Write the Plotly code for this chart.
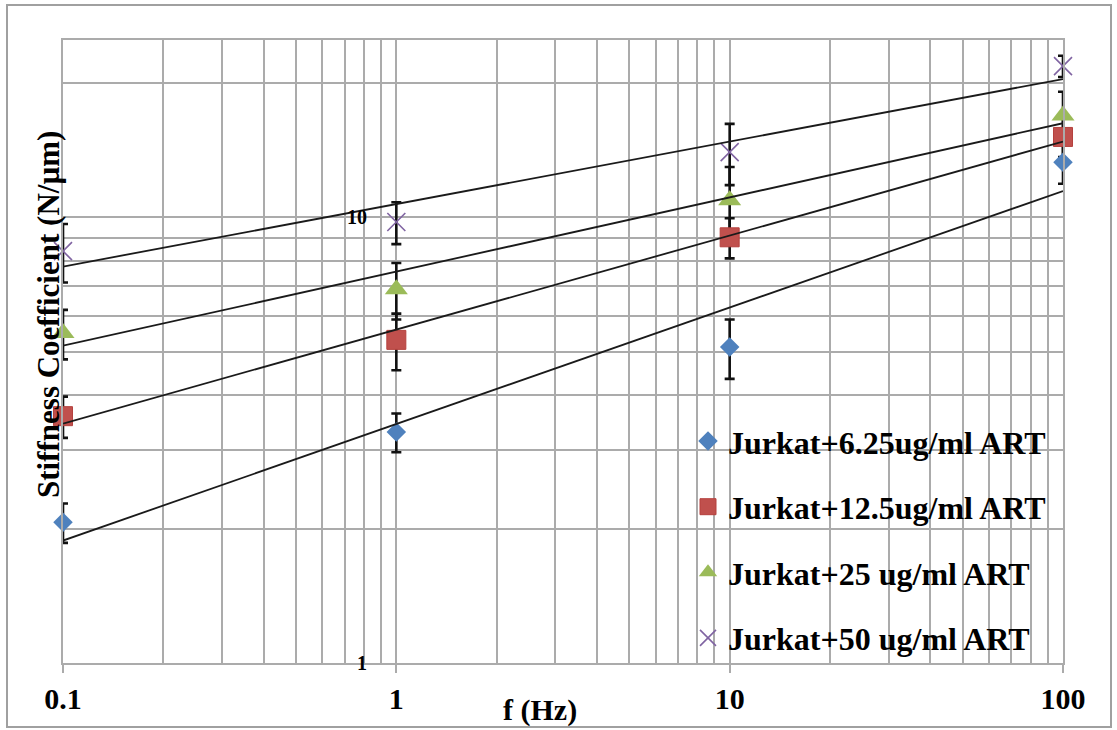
import math
import numpy as np
import plotly.graph_objects as go

# ---- data ----
freq = [0.1, 1, 10, 100]
names = ["Jurkat+6.25ug/ml ART", "Jurkat+12.5ug/ml ART",
         "Jurkat+25 ug/ml ART", "Jurkat+50 ug/ml ART"]
s_625 = [2.07, 3.30, 5.12, 13.3]
e_625 = [0.21, 0.33, 0.78, 1.4]
s_125 = [3.58, 5.31, 9.02, 15.15]
e_125 = [0.38, 0.77, 0.93, 1.5]
s_25 = [5.5, 6.9, 10.92, 16.93]
e_25 = [0.7, 1.0, 2.05, 2.2]
s_50 = [8.4, 9.76, 14.01, 21.85]
e_50 = [1.26, 1.05, 2.2, 1.2]
x_ticks = [0.1, 1, 10, 100]
x_ticktext = ["0.1", "1", "10", "100"]
y_ticks = [1, 10]
y_ticktext = ["1", "10"]

series = [s_625, s_125, s_25, s_50]
errors = [e_625, e_125, e_25, e_50]
colors = ["#4F81BD", "#C0504D", "#9BBB59", "#8064A2"]
symbols = ["diamond", "square", "triangle-up", "x-thin"]
sizes = [15, 19, 20, 18]

FONT = "Liberation Serif"
GRID = "#ababab"

fig = go.Figure()

# error bars (clipped at the plot area)
for s, e in zip(series, errors):
    fig.add_trace(go.Scatter(
        x=freq, y=s, mode="markers", showlegend=False, hoverinfo="skip",
        marker=dict(color="rgba(0,0,0,0)", size=2),
        error_y=dict(type="data", array=e, visible=True, color="#111111",
                     thickness=2.6, width=5),
        cliponaxis=True))

# markers
for i, (s, n) in enumerate(zip(series, names)):
    mk = dict(color=colors[i], size=sizes[i], symbol=symbols[i])
    if symbols[i] == "x-thin":
        mk["line"] = dict(color=colors[i], width=1.6)
    elif symbols[i] == "square":
        mk["line"] = dict(color="#B5413E", width=1)
    else:
        mk["line"] = dict(width=0)
    fig.add_trace(go.Scatter(
        x=freq, y=s, mode="markers", name=n, legendgroup=n,
        marker=mk, cliponaxis=False))

# power-law trendlines (fitted in log space)
lx = np.log10(freq)
for s in series:
    b, a = np.polyfit(lx, np.log10(s), 1)
    xs = [freq[0], freq[-1]]
    ys = [10 ** (a + b * math.log10(v)) for v in xs]
    fig.add_trace(go.Scatter(x=xs, y=ys, mode="lines", showlegend=False,
                             hoverinfo="skip",
                             line=dict(color="#1a1a1a", width=1.8)))

# minor grid values
x_minor = [m * 10 ** d for d in range(-1, 2) for m in range(2, 10)]
y_grid = [2, 3, 4, 5, 6, 7, 8, 9, 10, 20]

fig.update_xaxes(
    type="log", range=[-1, 2],
    tickvals=x_ticks, ticktext=x_ticktext,
    ticks="outside", ticklen=8, tickwidth=1.5, tickcolor=GRID,
    tickfont=dict(family=FONT, size=30, color="black", weight="bold"),
    showgrid=True, gridcolor=GRID, gridwidth=1.5,
    minor=dict(tickvals=x_minor, showgrid=True, gridcolor=GRID,
               gridwidth=1.5, ticks=""),
    showline=True, linecolor=GRID, linewidth=1.5, mirror=True,
    zeroline=False)

fig.update_yaxes(
    type="log", range=[0, math.log10(25)],
    tickvals=y_grid, showticklabels=False, ticks="",
    showgrid=True, gridcolor=GRID, gridwidth=1.5,
    showline=True, linecolor=GRID, linewidth=1.5, mirror=True,
    zeroline=False)

annotations = []
for v, t in zip(y_ticks, y_ticktext):
    annotations.append(dict(
        x=0, y=math.log10(v), xref="x", yref="y", text=t, showarrow=False,
        xanchor="right", yanchor="middle", xshift=-27,
        font=dict(family=FONT, size=20, color="black", weight="bold")))
annotations.append(dict(
    x=0.477, y=0, xref="paper", yref="paper", text="f (Hz)",
    showarrow=False, xanchor="center", yanchor="middle", yshift=-47,
    font=dict(family=FONT, size=30, color="black", weight="bold")))
annotations.append(dict(
    x=0, y=0.5586, xref="paper", yref="paper",
    text="Stiffness Coefficient (N/µm)", textangle=-90,
    showarrow=False, xanchor="center", yanchor="middle", xshift=-14,
    font=dict(family=FONT, size=31, color="black", weight="bold")))

fig.update_layout(
    width=1117, height=730,
    margin=dict(l=63, r=54, t=40, b=67),
    paper_bgcolor="white", plot_bgcolor="white",
    annotations=annotations,
    showlegend=True,
    legend=dict(x=0.625, y=0.40, xanchor="left", yanchor="top",
                bgcolor="rgba(0,0,0,0)", borderwidth=0,
                traceorder="grouped", tracegroupgap=21,
                font=dict(family=FONT, size=32, color="black", weight="bold")),
    shapes=[dict(type="rect", xref="paper", yref="paper",
                 x0=-0.056, x1=1.048, y0=-0.1027, y1=1.056,
                 line=dict(color="#a0a0a0", width=2))],
)

fig.write_html("out.html",
               config={"displayModeBar": False},
               post_script="document.body.style.margin='0px';")
